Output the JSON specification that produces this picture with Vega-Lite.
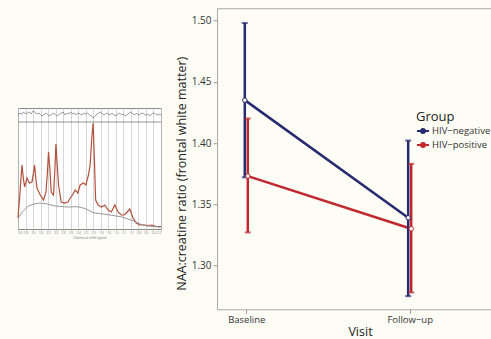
{
  "$schema": "https://vega.github.io/schema/vega-lite/v6.json",
  "background": "#fdfdf6",
  "padding": {"left": 15, "top": 7, "right": 0, "bottom": 0},
  "spacing": 10,
  "center": true,
  "config": {"font": "Open Sans", "view": {"stroke": null}},
  "hconcat": [
    {
      "width": 143,
      "height": 121,
      "view": {"stroke": "#8a8a8a", "fill": "#ffffff"},
      "encoding": {
        "x": {"field": "ppm", "type": "quantitative",
          "scale": {"domain": [0.2, 4.0], "reverse": true, "nice": false, "zero": false},
          "axis": {"values": [0.2,0.4,0.6,0.8,1.0,1.2,1.4,1.6,1.8,2.0,2.2,2.4,2.6,2.8,3.0,3.2,3.4,3.6,3.8,4.0],
            "format": ".1f", "grid": true, "gridColor": "#c4c4c4", "gridWidth": 0.7, "domain": false, "labelOverlap": false,
            "tickSize": 1, "tickColor": "#999", "labelFontSize": 3, "labelColor": "#777", "labelPadding": 1,
            "title": "Chemical shift (ppm)", "titleFontSize": 3.5, "titleFontWeight": "normal", "titleColor": "#777", "titlePadding": 1}}
      },
      "layer": [
        {
          "data": {"values": [
            {"ppm": 4.0, "val": 11}, {"ppm": 3.952, "val": 34}, {"ppm": 3.894, "val": 64}, {"ppm": 3.859, "val": 51},
            {"ppm": 3.825, "val": 42}, {"ppm": 3.761, "val": 51}, {"ppm": 3.7, "val": 46}, {"ppm": 3.629, "val": 47},
            {"ppm": 3.586, "val": 57}, {"ppm": 3.56, "val": 64}, {"ppm": 3.528, "val": 51}, {"ppm": 3.496, "val": 41},
            {"ppm": 3.409, "val": 34}, {"ppm": 3.321, "val": 29}, {"ppm": 3.257, "val": 37}, {"ppm": 3.223, "val": 54},
            {"ppm": 3.189, "val": 77}, {"ppm": 3.151, "val": 59}, {"ppm": 3.117, "val": 37}, {"ppm": 3.056, "val": 34},
            {"ppm": 3.021, "val": 59}, {"ppm": 2.992, "val": 85}, {"ppm": 2.958, "val": 64}, {"ppm": 2.923, "val": 44},
            {"ppm": 2.852, "val": 27}, {"ppm": 2.764, "val": 26}, {"ppm": 2.674, "val": 27}, {"ppm": 2.613, "val": 31},
            {"ppm": 2.552, "val": 34}, {"ppm": 2.481, "val": 39}, {"ppm": 2.409, "val": 36}, {"ppm": 2.348, "val": 44},
            {"ppm": 2.26, "val": 46}, {"ppm": 2.197, "val": 44}, {"ppm": 2.128, "val": 54}, {"ppm": 2.083, "val": 64},
            {"ppm": 2.043, "val": 89}, {"ppm": 2.003, "val": 106}, {"ppm": 1.969, "val": 69}, {"ppm": 1.937, "val": 29},
            {"ppm": 1.871, "val": 24}, {"ppm": 1.783, "val": 22}, {"ppm": 1.693, "val": 24}, {"ppm": 1.605, "val": 19},
            {"ppm": 1.518, "val": 17}, {"ppm": 1.428, "val": 24}, {"ppm": 1.34, "val": 17}, {"ppm": 1.253, "val": 14},
            {"ppm": 1.181, "val": 14}, {"ppm": 1.12, "val": 16}, {"ppm": 1.03, "val": 20}, {"ppm": 0.943, "val": 11},
            {"ppm": 0.855, "val": 6}, {"ppm": 0.765, "val": 4}, {"ppm": 0.651, "val": 4}, {"ppm": 0.545, "val": 3.5},
            {"ppm": 0.439, "val": 4}, {"ppm": 0.333, "val": 2.5}, {"ppm": 0.2, "val": 2.3}
          ]},
          "mark": {"type": "line", "color": "#b4503c", "strokeWidth": 1.2},
          "encoding": {
            "y": {"field": "val", "type": "quantitative", "scale": {"domain": [0, 121], "nice": false}, "axis": null}
          }
        },
        {
          "data": {"values": [
            {"ppm": 4.0, "val": 11}, {"ppm": 3.886, "val": 17}, {"ppm": 3.727, "val": 23}, {"ppm": 3.568, "val": 25},
            {"ppm": 3.409, "val": 26}, {"ppm": 3.223, "val": 25}, {"ppm": 3.011, "val": 23}, {"ppm": 2.701, "val": 22},
            {"ppm": 2.427, "val": 22.3}, {"ppm": 2.215, "val": 20.5}, {"ppm": 2.003, "val": 16.3}, {"ppm": 1.553, "val": 14},
            {"ppm": 1.234, "val": 12}, {"ppm": 0.943, "val": 8.3}, {"ppm": 0.757, "val": 5}, {"ppm": 0.571, "val": 3},
            {"ppm": 0.2, "val": 2}
          ]},
          "mark": {"type": "line", "color": "#8c8c8c", "strokeWidth": 0.9},
          "encoding": {
            "y": {"field": "val", "type": "quantitative"}
          }
        },
        {
          "data": {"values": [
            {"ppm": 4.0, "val": 114}, {"ppm": 3.95, "val": 116}, {"ppm": 3.9, "val": 115}, {"ppm": 3.85, "val": 117},
            {"ppm": 3.8, "val": 115}, {"ppm": 3.75, "val": 116}, {"ppm": 3.7, "val": 117}, {"ppm": 3.65, "val": 115},
            {"ppm": 3.6, "val": 118}, {"ppm": 3.55, "val": 117}, {"ppm": 3.5, "val": 115}, {"ppm": 3.45, "val": 116},
            {"ppm": 3.4, "val": 114}, {"ppm": 3.35, "val": 113}, {"ppm": 3.3, "val": 115}, {"ppm": 3.25, "val": 116},
            {"ppm": 3.2, "val": 114}, {"ppm": 3.15, "val": 113}, {"ppm": 3.1, "val": 115}, {"ppm": 3.05, "val": 116},
            {"ppm": 3.0, "val": 114}, {"ppm": 2.95, "val": 113}, {"ppm": 2.9, "val": 115}, {"ppm": 2.85, "val": 116},
            {"ppm": 2.8, "val": 117}, {"ppm": 2.75, "val": 114}, {"ppm": 2.7, "val": 116}, {"ppm": 2.65, "val": 115},
            {"ppm": 2.6, "val": 117}, {"ppm": 2.55, "val": 115}, {"ppm": 2.5, "val": 116}, {"ppm": 2.45, "val": 114},
            {"ppm": 2.4, "val": 116}, {"ppm": 2.35, "val": 115}, {"ppm": 2.3, "val": 114}, {"ppm": 2.25, "val": 116},
            {"ppm": 2.2, "val": 115}, {"ppm": 2.15, "val": 116}, {"ppm": 2.1, "val": 114}, {"ppm": 2.05, "val": 113},
            {"ppm": 2.0, "val": 111}, {"ppm": 1.95, "val": 113}, {"ppm": 1.9, "val": 115}, {"ppm": 1.85, "val": 116},
            {"ppm": 1.8, "val": 117}, {"ppm": 1.75, "val": 115}, {"ppm": 1.7, "val": 114}, {"ppm": 1.65, "val": 116},
            {"ppm": 1.6, "val": 115}, {"ppm": 1.55, "val": 114}, {"ppm": 1.5, "val": 116}, {"ppm": 1.45, "val": 114},
            {"ppm": 1.4, "val": 113}, {"ppm": 1.35, "val": 115}, {"ppm": 1.3, "val": 116}, {"ppm": 1.25, "val": 114},
            {"ppm": 1.2, "val": 115}, {"ppm": 1.15, "val": 113}, {"ppm": 1.1, "val": 114}, {"ppm": 1.05, "val": 116},
            {"ppm": 1.0, "val": 117}, {"ppm": 0.95, "val": 115}, {"ppm": 0.9, "val": 114}, {"ppm": 0.85, "val": 116},
            {"ppm": 0.8, "val": 114}, {"ppm": 0.75, "val": 115}, {"ppm": 0.7, "val": 116}, {"ppm": 0.65, "val": 115},
            {"ppm": 0.6, "val": 114}, {"ppm": 0.55, "val": 115}, {"ppm": 0.5, "val": 113}, {"ppm": 0.45, "val": 115},
            {"ppm": 0.4, "val": 116}, {"ppm": 0.35, "val": 115}, {"ppm": 0.3, "val": 114}, {"ppm": 0.25, "val": 115},
            {"ppm": 0.2, "val": 114}
          ]},
          "mark": {"type": "line", "color": "#5a5a5a", "strokeWidth": 0.6},
          "encoding": {
            "y": {"field": "val", "type": "quantitative"}
          }
        },
        {
          "data": {"values": [{}]},
          "mark": {"type": "rule", "color": "#7a7a7a", "strokeWidth": 0.8},
          "encoding": {"x": null, "y": {"datum": 107, "type": "quantitative"}}
        }
      ]
    },
    {
      "width": 286,
      "height": 301,
      "view": {"stroke": "#a8a8a8", "fill": "#fdfdf6"},
      "data": {"values": [
        {"Visit": "Baseline", "Group": "HIV−negative", "mean": 1.435, "lo": 1.372, "hi": 1.498},
        {"Visit": "Baseline", "Group": "HIV−positive", "mean": 1.373, "lo": 1.327, "hi": 1.420},
        {"Visit": "Follow−up", "Group": "HIV−negative", "mean": 1.339, "lo": 1.275, "hi": 1.402},
        {"Visit": "Follow−up", "Group": "HIV−positive", "mean": 1.330, "lo": 1.278, "hi": 1.383}
      ]},
      "encoding": {
        "x": {"field": "Visit", "type": "ordinal", "sort": ["Baseline", "Follow−up"],
          "scale": {"type": "point", "padding": 0.3752, "align": 0.239},
          "axis": {"title": "Visit", "labelAngle": 0, "domain": false, "tickSize": 4, "tickColor": "#999",
            "labelFontSize": 9.5, "labelColor": "#333", "labelPadding": 1,
            "titleFontSize": 12.5, "titleFontWeight": "normal", "titleColor": "#222", "titlePadding": 2}},
        "xOffset": {"field": "Group", "type": "nominal", "scale": {"range": [-3, 3]}},
        "color": {"field": "Group", "type": "nominal",
          "scale": {"domain": ["HIV−negative", "HIV−positive"], "range": ["#262a70", "#c1272d"]},
          "legend": {"orient": "none", "legendX": 398, "legendY": 103, "title": "Group",
            "titleFontSize": 13, "titleFontWeight": "normal", "titleColor": "#222", "titlePadding": 0,
            "labelFontSize": 9.5, "labelColor": "#333", "labelOffset": 2,
            "symbolType": "M-1,0L1,0M-0.32,0A0.32,0.32,0,1,1,0.32,0A0.32,0.32,0,1,1,-0.32,0Z",
            "symbolSize": 144, "symbolStrokeWidth": 2, "rowPadding": 1,
            "encode": {"symbols": {"update": {"fill": {"value": "white"}, "opacity": {"value": 1}, "strokeWidth": {"value": 2}}}}}}
      },
      "layer": [
        {
          "mark": {"type": "line", "strokeWidth": 2.5},
          "encoding": {"y": {"field": "mean", "type": "quantitative",
            "scale": {"domain": [1.2643, 1.51], "nice": false, "zero": false},
            "title": "NAA:creatine ratio (frontal white matter)",
            "axis": {"values": [1.3, 1.35, 1.4, 1.45, 1.5], "format": ".2f", "grid": false, "domain": false,
              "tickSize": 4, "tickColor": "#999", "labelFontSize": 10, "labelColor": "#333", "labelPadding": 2,
              "titleFontSize": 12.5, "titleFontWeight": "normal", "titleColor": "#222", "titleX": -36, "titleY": 165, "titleBaseline": "middle"}}}
        },
        {
          "mark": {"type": "rule", "strokeWidth": 2.5},
          "encoding": {
            "y": {"field": "lo", "type": "quantitative", "scale": {"domain": [1.2643, 1.51], "nice": false, "zero": false}, "title": "NAA:creatine ratio (frontal white matter)"},
            "y2": {"field": "hi"}
          }
        },
        {
          "mark": {"type": "tick", "thickness": 2, "size": 6},
          "encoding": {"y": {"field": "lo", "type": "quantitative", "scale": {"domain": [1.2643, 1.51], "nice": false, "zero": false}, "title": "NAA:creatine ratio (frontal white matter)"}}
        },
        {
          "mark": {"type": "tick", "thickness": 2, "size": 6},
          "encoding": {"y": {"field": "hi", "type": "quantitative", "scale": {"domain": [1.2643, 1.51], "nice": false, "zero": false}, "title": "NAA:creatine ratio (frontal white matter)"}}
        },
        {
          "mark": {"type": "point", "filled": false, "fill": "white", "size": 20, "strokeWidth": 1, "opacity": 1},
          "encoding": {"y": {"field": "mean", "type": "quantitative", "scale": {"domain": [1.2643, 1.51], "nice": false, "zero": false}, "title": "NAA:creatine ratio (frontal white matter)"}}
        }
      ]
    }
  ]
}
